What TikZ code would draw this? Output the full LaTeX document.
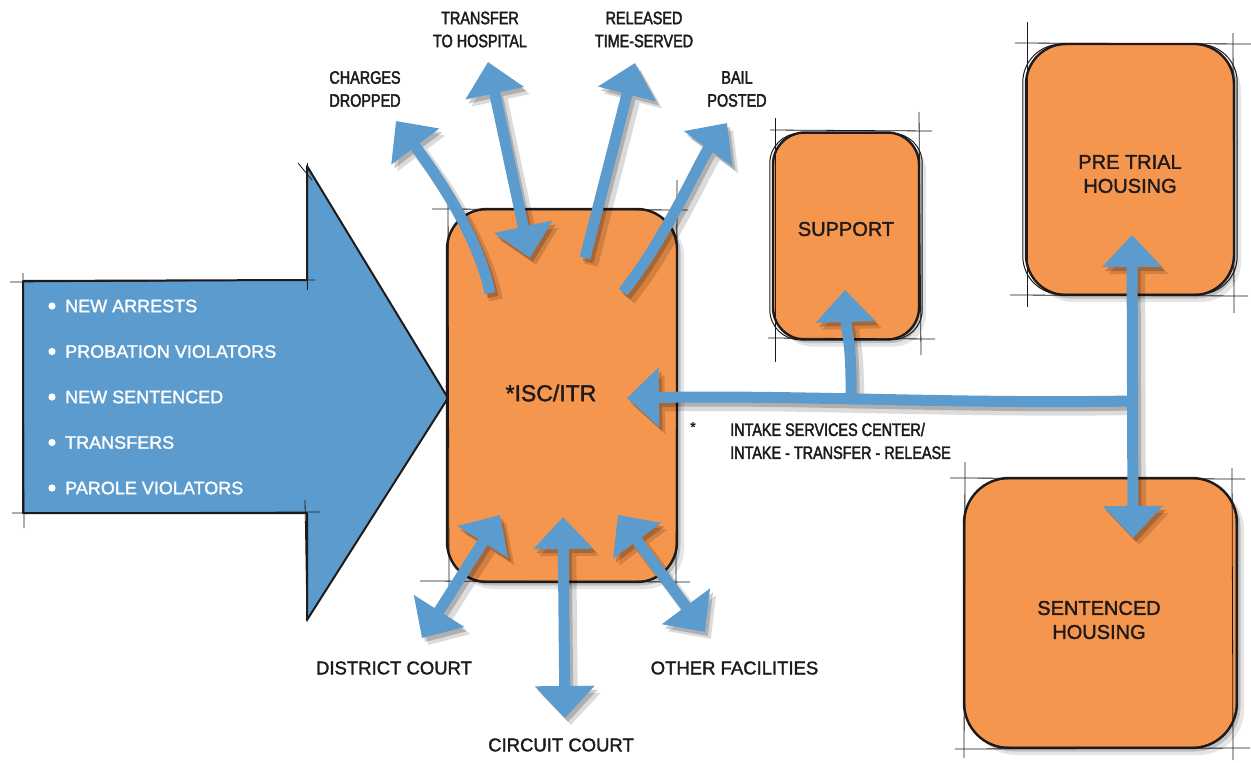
\documentclass[tikz,border=0pt]{standalone}
\usepackage{fontspec}
\setmainfont{Liberation Sans}[FakeBold=1.6]
\newfontfamily\condfont[FakeStretch=0.8,FakeBold=2.2]{Liberation Sans}
\usetikzlibrary{arrows.meta,shadows,calc}
\definecolor{ablue}{RGB}{91,155,205}
\definecolor{aorange}{RGB}{245,150,78}
\definecolor{ink}{RGB}{30,26,26}
\tikzset{
  >={Triangle[length=32pt,width=58pt]},
  flow/.style={draw=ablue, line width=11pt},
  unit box/.style={rectangle, rounded corners=#1, fill=aorange, draw=ink, line width=2.4pt,
    inner sep=0pt,
    drop shadow={shadow xshift=7pt, shadow yshift=-7pt, fill=black, opacity=.10},
    drop shadow={shadow xshift=3.5pt, shadow yshift=-3.5pt, fill=black, opacity=.16}},
  sketch/.style={draw=ink, line width=1pt, rounded corners=#1},
  boxtext/.style={font=\fontsize{20}{24}\selectfont, align=center, text=ink, inner sep=0pt},
  guide/.style={draw=ink, line width=.8pt},
  toplabel/.style={font=\condfont\fontsize{18}{23}\selectfont, align=center, text=ink, inner sep=0pt},
  destlabel/.style={font=\fontsize{18.5}{22}\selectfont, text=ink, inner sep=0pt},
  srclabel/.style={font=\fontsize{18}{22}\selectfont, text=white, anchor=west, inner sep=0pt},
}
\newcommand\allflows{%
  \draw[flow,->] (cdS) .. controls (480,245) and (448,190) .. (cdE);
  \draw[flow,<->] (thA) -- (thB);
  \draw[flow,->] (rtS) -- (rtE);
  \draw[flow,->] (bpS) .. controls (665,240) and (700,160) .. (bpE);
  \draw[flow,<->] (dcA) -- (dcB);
  \draw[flow,<->] (ccA) -- (ccB);
  \draw[flow,<->] (ofA) -- (ofB);
  \draw[flow,->] (hub) .. controls (950,404) and (800,395) .. (iscIn);
  \draw[flow,->] (spFoot) .. controls (852,340) and (846,330) .. (spIn);
  \draw[flow,<->] (ptIn) -- (snIn);
}
\begin{document}
\begin{tikzpicture}[x=1pt,y=-1pt]
\useasboundingbox (0,0) rectangle (1251,763);
\fill[white] (0,0) rectangle (1251,763);

% big incoming arrow
\draw[fill=ablue, draw=ink, line width=2pt, line join=round]
  (23,281) -- (307,280) -- (307,166) -- (448,398) -- (307,620) -- (307,513) -- (23,513) -- cycle;
\draw[guide] (10,282) -- (315,280);
\draw[guide] (12,513) -- (320,512);
\draw[guide] (23,273) -- (24,528);
\draw[guide] (307,163) -- (307,290);
\draw[guide] (298,163) -- (312,180);
\draw[guide] (305,500) -- (307,622);
\draw[guide] (446,386) -- (450,412);
\foreach \t [count=\i] in {NEW ARRESTS, PROBATION VIOLATORS, NEW SENTENCED, TRANSFERS, PAROLE VIOLATORS}{
  \fill[white] (52,{306+45.5*(\i-1)}) circle (3.6);
  \node[srclabel] (src\i) at (65,{306+45.5*(\i-1)}) {\t};
}

% boxes
\node[unit box=40pt, minimum width=230pt, minimum height=373pt] (isc) at (562,395.5) {};
\node[unit box=32pt, minimum width=146pt, minimum height=207pt] (support) at (846,236) {};
\node[unit box=40pt, minimum width=208pt, minimum height=251pt] (pretrial) at (1130,169.5) {};
\node[unit box=45pt, minimum width=273pt, minimum height=270pt] (sentenced) at (1100.5,613) {};
\draw[sketch=38pt] ($(isc.south west)+(2,-2)$) rectangle ($(isc.north east)+(-1,2)$);
\draw[sketch=30pt] ($(support.south west)+(-2,-1)$) rectangle ($(support.north east)+(2,2)$);
\draw[sketch=38pt] ($(pretrial.south west)+(-2,-2)$) rectangle ($(pretrial.north east)+(2,1.5)$);
\draw[sketch=43pt] ($(sentenced.south west)+(2,-2)$) rectangle ($(sentenced.north east)+(-2,2)$);

\node[boxtext, font=\fontsize{23}{27}\selectfont] (isctext) at (551,393) {*ISC/ITR};
\node[boxtext] (supporttext) at (846,229) {SUPPORT};
\node[boxtext] (pretrialtext) at (1130,174) {PRE TRIAL\\HOUSING};
\node[boxtext] (sentencedtext) at (1099,620) {SENTENCED\\HOUSING};

% construction lines
\draw[guide] (432,209) -- (688,210);
\draw[guide] (420,581) -- (690,582);
\draw[guide] (448,188) -- (449,590);
\draw[guide] (677,180) -- (676,590);
\draw[guide] (770,130) -- (932,131);
\draw[guide] (768,338) -- (935,339);
\draw[guide] (775,118) -- (775,362);
\draw[guide] (919,112) -- (921,355);
\draw[guide] (1015,43) -- (1251,44);
\draw[guide] (1010,295) -- (1248,296);
\draw[guide] (1027,22) -- (1027,307);
\draw[guide] (1233,33) -- (1234,313);
\draw[guide] (950,478) -- (1245,479);
\draw[guide] (955,749) -- (1250,748);
\draw[guide] (965,462) -- (964,758);
\draw[guide] (1232,468) -- (1233,760);

% labels
\node[toplabel] (charges) at (365,89) {CHARGES\\DROPPED};
\node[toplabel] (transfer) at (480,29.5) {TRANSFER\\TO HOSPITAL};
\node[toplabel] (released) at (644,29.5) {RELEASED\\TIME-SERVED};
\node[toplabel] (bail) at (737,89) {BAIL\\POSTED};
\node[destlabel] (district) at (394,668) {DISTRICT COURT};
\node[destlabel] (circuit) at (561,745) {CIRCUIT COURT};
\node[destlabel] (other) at (734.5,668) {OTHER FACILITIES};
\node[toplabel, align=left, anchor=west] (note) at (730,441) {INTAKE SERVICES CENTER/\\INTAKE - TRANSFER - RELEASE};
\node[font=\fontsize{14}{14}\selectfont, text=ink, inner sep=0pt] (star) at (693,427) {*};

% flow end points
\coordinate (cdS) at (490,293);  \coordinate (cdE) at (396,121);
\coordinate (thA) at (488,62);   \coordinate (thB) at (530,258);
\coordinate (rtS) at (585,258);  \coordinate (rtE) at (635,63);
\coordinate (bpS) at (623,292);  \coordinate (bpE) at (727,123);
\coordinate (dcA) at (500,515);  \coordinate (dcB) at (422,638);
\coordinate (ccA) at (563,517);  \coordinate (ccB) at (565,718);
\coordinate (ofA) at (618,515);  \coordinate (ofB) at (705,632);
\coordinate (hub) at (1132,401); \coordinate (iscIn) at (627,398);
\coordinate (spFoot) at (851,404); \coordinate (spIn) at (845,290);
\coordinate (ptIn) at (1132,235); \coordinate (snIn) at (1133,538);

% shadows of flows
\begin{scope}[transparency group, opacity=.14]
  \path (0,0) rectangle (1251,763);
  \begin{scope}[transform canvas={shift={(6pt,-7pt)}}, flow/.style={draw=black, line width=14pt}]
    \allflows
  \end{scope}
\end{scope}
\begin{scope}[transparency group, opacity=.2]
  \path (0,0) rectangle (1251,763);
  \begin{scope}[transform canvas={shift={(3pt,-4pt)}}, flow/.style={draw=black, line width=11pt}]
    \allflows
  \end{scope}
\end{scope}
% flows
\allflows
\end{tikzpicture}
\end{document}
